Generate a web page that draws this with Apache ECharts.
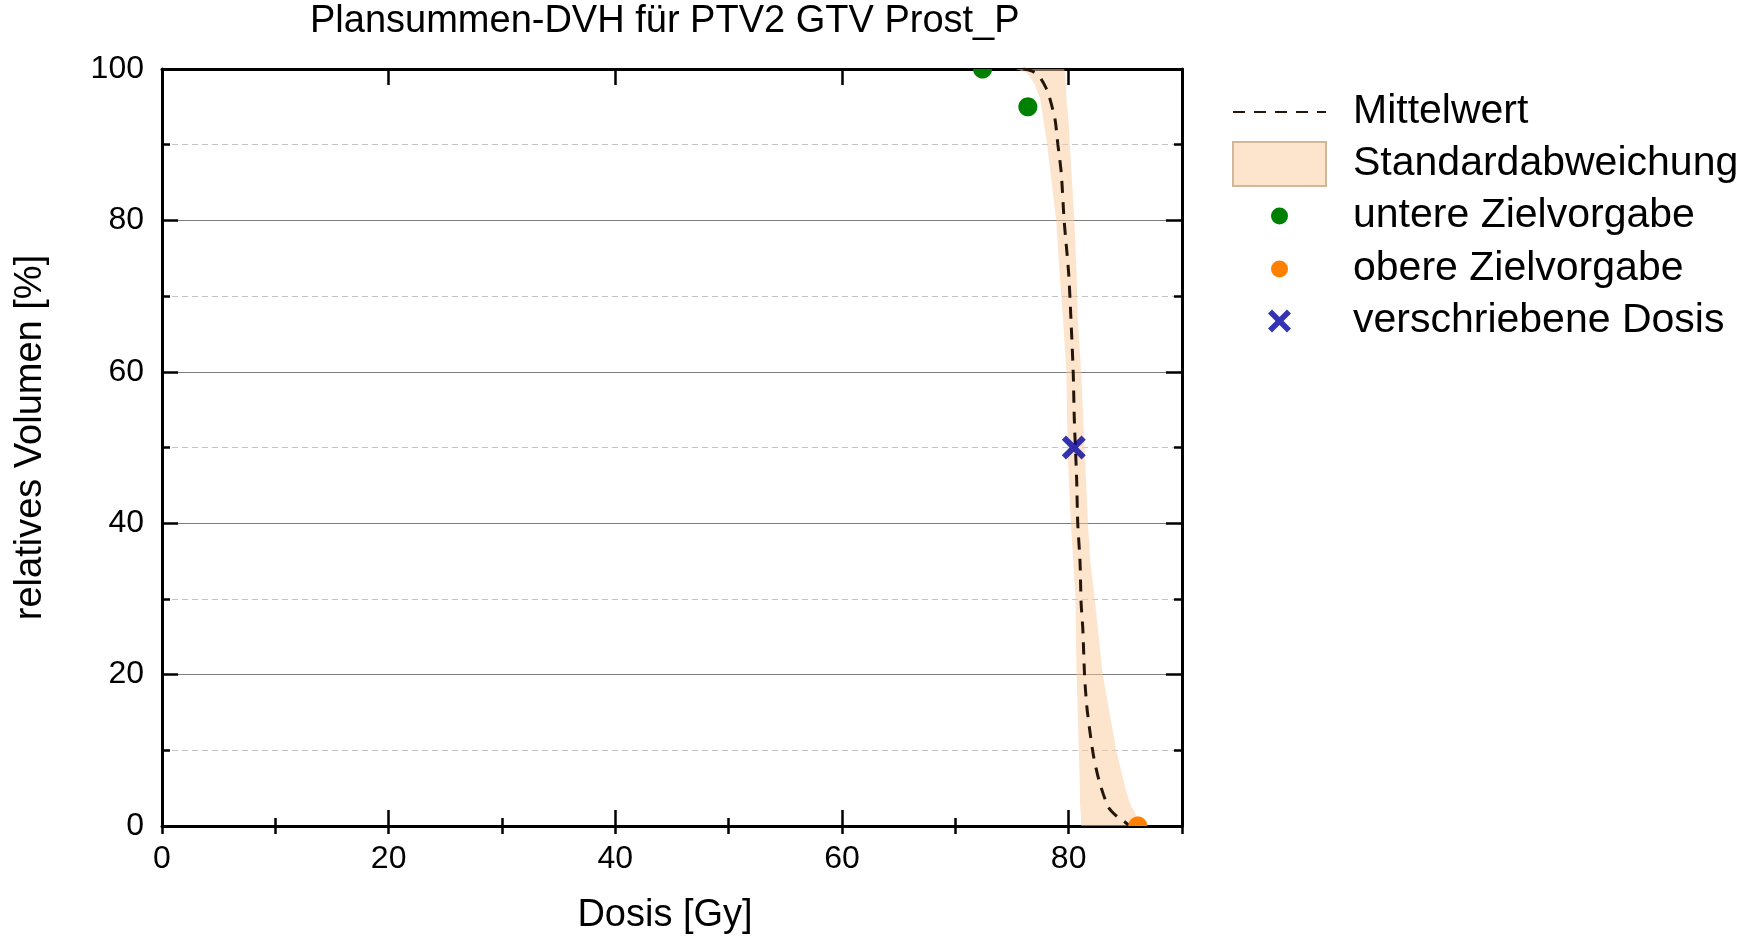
<!DOCTYPE html>
<html>
<head>
<meta charset="utf-8">
<script src="https://cdn.jsdelivr.net/npm/echarts@6/dist/echarts.min.js"></script>
<style>
html, body { margin: 0; padding: 0; background: #fff; }
#chart { width: 1759px; height: 936px; }
</style>
</head>
<body>
<div id="chart"></div>
<script>
// mean DVH (dose in Gy, relative volume in %)
const meanDose = [76.0, 76.8, 77.5, 78.0, 78.3, 78.8, 79.05, 79.35, 79.6, 80.0, 80.2, 80.4, 80.5, 80.7, 80.8, 81.0, 81.1, 81.25, 81.4, 81.6, 81.9, 82.2, 82.7, 83.5, 84.3, 84.9, 85.4]
const meanVol = [100, 99.7, 98.8, 97.5, 96.3, 93.3, 90, 86.2, 80, 73, 67, 60, 53.6, 46, 40, 35, 29.4, 26, 20, 15.8, 12.2, 9.2, 5.9, 2.5, 1.2, 0.6, 0]

// standard deviation band: dose range at each volume level
const bandVol = [100, 99.5, 98, 96, 93, 90, 85, 80, 73, 67, 60, 50, 40, 35, 30, 20, 10, 5, 3, 1, 0]
const bandLow = [75.3, 76.3, 77.0, 77.5, 77.8, 78.1, 78.5, 78.9, 79.2, 79.5, 79.8, 79.9, 80.2, 80.4, 80.6, 80.7, 80.9, 81.0, 81.0, 81.1, 81.1]
const bandHigh = [79.6, 79.7, 79.75, 79.8, 80.0, 80.1, 80.3, 80.5, 80.7, 80.8, 81.1, 81.4, 81.7, 81.9, 82.3, 83.0, 84.2, 85.0, 85.4, 86.1, 86.8]

// Zielvorgaben und verschriebene Dosis
const lowerGoal = [[72.4, 100], [76.4, 95]]
const upperGoal = [[86.1, 0]]
const prescribed = [[80.45, 50]]

const FONT = 'Liberation Sans'
const BAND_FILL = 'rgba(251, 201, 153, 0.5)'
const CROSS = 'path://M0,3.5 L3.5,0 L10,6.5 L16.5,0 L20,3.5 L13.5,10 L20,16.5 L16.5,20 L10,13.5 L3.5,20 L0,16.5 L6.5,10 Z'

const chart = echarts.init(document.getElementById('chart'))

const frameLine = { show: true, onZero: false, lineStyle: { color: '#000', width: 3 } }
const tickStyle = { color: '#000', width: 2.5 }
const labelStyle = { fontFamily: FONT, fontSize: 32, color: '#000' }
const nameStyle = { fontFamily: FONT, fontSize: 38, color: '#000' }

// one legend block per entry so every icon can have its own size
const legendAt = (name, centerY, left, itemHeight, extra) => ({
  data: [name],
  orient: 'vertical',
  left,
  top: centerY - Math.max(itemHeight, 41) / 2,
  padding: 0,
  itemWidth: 93,
  itemHeight,
  selectedMode: false,
  textStyle: { fontFamily: FONT, fontSize: 41, color: '#000', padding: [0, 0, 0, 22] },
  ...extra
})

// filled dot, cut off at the plot frame like in the original
const dotRender = (params, api) => {
  const p = api.coord([api.value(0), api.value(1)])
  const cs = params.coordSys
  const r = 9.5
  const pts = []
  for (let k = 0; k < 48; k++) {
    const a = (k / 48) * Math.PI * 2
    const x = Math.min(Math.max(p[0] + r * Math.cos(a), cs.x), cs.x + cs.width)
    const y = Math.min(Math.max(p[1] + r * Math.sin(a), cs.y), cs.y + cs.height)
    pts.push([x, y])
  }
  return { type: 'polygon', shape: { points: pts }, style: { fill: api.visual('color') } }
}

const bandRender = (params, api) => {
  if (params.dataIndex !== 0) return null
  const pts = []
  bandVol.forEach((v, i) => pts.push(api.coord([bandLow[i], v])))
  for (let i = bandVol.length - 1; i >= 0; i--) pts.push(api.coord([bandHigh[i], bandVol[i]]))
  return { type: 'polygon', shape: { points: pts }, style: { fill: BAND_FILL } }
}

const option = {
  backgroundColor: '#fff',
  animation: false,
  title: {
    text: 'Plansummen-DVH für PTV2 GTV Prost_P',
    left: 310,
    top: 3,
    padding: 0,
    textStyle: { fontFamily: FONT, fontSize: 38, fontWeight: 'normal', color: '#000' }
  },
  legend: [
    legendAt('Mittelwert', 112, 1232, 4, { itemStyle: { opacity: 0 } }),
    legendAt('Standardabweichung', 163, 1232, 44, { data: [{ name: 'Standardabweichung', icon: 'rect' }] }),
    legendAt('untere Zielvorgabe', 216, 1271, 17, { data: [{ name: 'untere Zielvorgabe', icon: 'circle' }] }),
    legendAt('obere Zielvorgabe', 269, 1271, 17, { data: [{ name: 'obere Zielvorgabe', icon: 'circle' }] }),
    legendAt('verschriebene Dosis', 321, 1268, 23)
  ],
  grid: { left: 162, top: 69, right: 577, bottom: 110, containLabel: false, outerBoundsMode: 'none' },
  xAxis: [
    {
      type: 'value', position: 'bottom', min: 0, max: 90, interval: 20,
      axisLine: frameLine,
      axisTick: { inside: true, length: 16, lineStyle: tickStyle },
      axisLabel: { ...labelStyle, margin: 17, showMaxLabel: false },
      splitLine: { show: false },
      name: 'Dosis [Gy]', nameLocation: 'middle', nameGap: 71,
      nameTextStyle: { ...nameStyle, padding: [0, 14, 0, 0] }
    },
    {
      type: 'value', position: 'top', min: 0, max: 90, interval: 20,
      axisLine: frameLine,
      axisTick: { inside: true, length: 16, lineStyle: tickStyle },
      axisLabel: { show: false },
      splitLine: { show: false }
    },
    {
      type: 'value', position: 'bottom', min: 0, max: 90, interval: 10,
      axisLine: { show: false },
      axisTick: { inside: true, length: 8, lineStyle: tickStyle },
      axisLabel: { show: false },
      splitLine: { show: false }
    },
    {
      type: 'value', position: 'top', min: 0, max: 90, interval: 10,
      axisLine: { show: false },
      axisTick: { inside: true, length: 8, lineStyle: tickStyle },
      axisLabel: { show: false },
      splitLine: { show: false }
    }
  ],
  yAxis: [
    {
      type: 'value', position: 'left', min: 0, max: 100, interval: 20,
      axisLine: frameLine,
      axisTick: { inside: true, length: 16, lineStyle: tickStyle },
      minorTick: { show: true, splitNumber: 2, length: 8, lineStyle: tickStyle },
      axisLabel: { ...labelStyle, margin: 18 },
      splitLine: { show: true, lineStyle: { color: '#7d7d7d', width: 1.2 } },
      minorSplitLine: { show: true, lineStyle: { color: '#c4c4c4', width: 1.2, type: [6, 4] } },
      name: 'relatives Volumen [%]', nameLocation: 'middle', nameGap: 112, nameRotate: 90,
      nameTextStyle: { ...nameStyle, padding: [0, 0, 0, 20] }
    },
    {
      type: 'value', position: 'right', min: 0, max: 100, interval: 20,
      axisLine: frameLine,
      axisTick: { inside: true, length: 16, lineStyle: tickStyle },
      minorTick: { show: true, splitNumber: 2, length: 8, lineStyle: tickStyle },
      axisLabel: { show: false },
      splitLine: { show: false }
    }
  ],
  series: [
    {
      name: 'Standardabweichung',
      type: 'custom',
      renderItem: bandRender,
      data: bandVol.map((v, i) => [bandLow[i], v, bandHigh[i]]),
      encode: { x: [0, 2], y: 1 },
      itemStyle: { color: BAND_FILL, borderColor: '#d2b69a', borderWidth: 1.5 },
      silent: true,
      z: 1
    },
    {
      name: 'Mittelwert',
      type: 'line',
      data: meanDose.map((d, i) => [d, meanVol[i]]),
      symbol: 'none',
      smooth: 0.25,
      lineStyle: { color: '#24160a', width: 3, type: [12, 9] },
      itemStyle: { color: '#24160a' },
      z: 3
    },
    {
      name: 'untere Zielvorgabe',
      type: 'custom',
      renderItem: dotRender,
      data: lowerGoal,
      encode: { x: 0, y: 1 },
      itemStyle: { color: '#008000' },
      z: 4
    },
    {
      name: 'obere Zielvorgabe',
      type: 'custom',
      renderItem: dotRender,
      data: upperGoal,
      encode: { x: 0, y: 1 },
      itemStyle: { color: '#ff8000' },
      z: 4
    },
    {
      name: 'verschriebene Dosis',
      type: 'scatter',
      data: prescribed,
      symbol: CROSS,
      symbolSize: 24,
      itemStyle: { color: '#0000a0' },
      z: 5
    }
  ]
}

chart.setOption(option)
</script>
</body>
</html>
